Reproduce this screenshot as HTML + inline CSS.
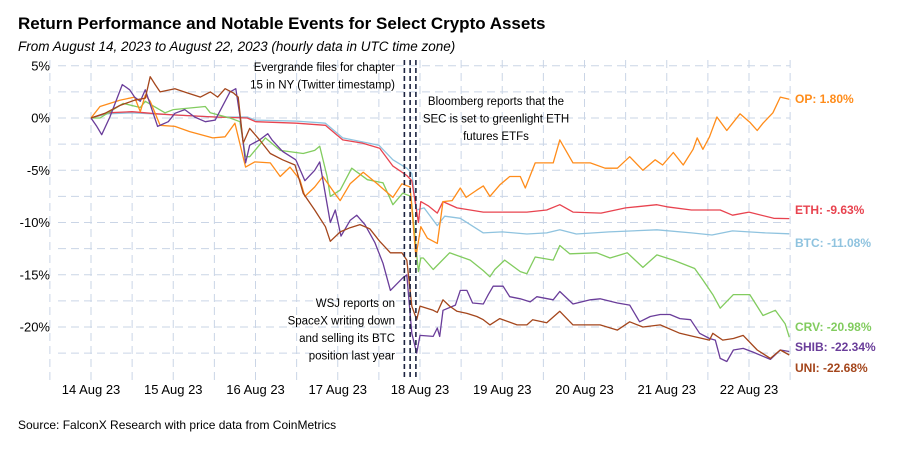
<!DOCTYPE html>
<html><head><meta charset="utf-8"><style>
body{margin:0;background:#fff;font-family:"Liberation Sans",Arial,sans-serif}
svg{display:block}
</style></head><body>
<svg id="c" width="900" height="450" xmlns="http://www.w3.org/2000/svg">
<text x="18" y="29" font-size="17" font-weight="bold" fill="#000">Return Performance and Notable Events for Select Crypto Assets</text>
<text x="18" y="51" font-size="13.5" font-style="italic" fill="#000">From August 14, 2023 to August 22, 2023 (hourly data in UTC time zone)</text>
<text x="18" y="429" font-size="12" fill="#000">Source: FalconX Research with price data from CoinMetrics</text>
<g id="grid"></g>
<g id="axes"></g>
<g id="series"></g>
<g id="ann"></g>
</svg>
<script>
const xTickLabels=["14 Aug 23","15 Aug 23","16 Aug 23","17 Aug 23","18 Aug 23","19 Aug 23","20 Aug 23","21 Aug 23","22 Aug 23"];
const yTicks=[5,0,-5,-10,-15,-20];
const eventDays=[3.81,3.88,3.95];
const seriesNames=["OP","ETH","BTC","CRV","SHIB","UNI"];
const finalValues=[1.80,-9.63,-11.08,-20.98,-22.34,-22.68];
const opDays=[0,0.11,0.35,0.53,0.6,0.66,0.72,0.84,1.02,1.2,1.48,1.63,1.75,1.88,1.99,2.18,2.3,2.42,2.54,2.6,2.72,2.82,2.99,3.03,3.15,3.31,3.48,3.67,3.78,3.88,3.95,4.01,4.09,4.21,4.28,4.39,4.49,4.56,4.69,4.77,4.85,4.97,5.09,5.22,5.28,5.4,5.62,5.7,5.86,6.07,6.25,6.4,6.55,6.71,6.86,6.95,7.08,7.2,7.32,7.37,7.44,7.52,7.61,7.73,7.89,8.01,8.1,8.17,8.29,8.38,8.49];
const opVals=[0,1.1,1.7,2.0,0.6,2.2,1.6,-0.7,-0.8,-1.3,-1.9,-1.8,-0.5,-4.7,-4.2,-4.3,-5.6,-4.7,-5.9,-7.5,-6.6,-5.6,-7.5,-7.9,-6.3,-5.2,-6.3,-7.6,-6.3,-6.6,-13.3,-10.4,-11.5,-12.0,-8.0,-7.9,-6.7,-7.6,-6.9,-6.5,-7.5,-6.4,-5.6,-5.6,-6.7,-4.3,-4.3,-2.1,-4.3,-4.3,-4.8,-4.8,-3.7,-5.0,-4.0,-4.5,-3.3,-4.5,-3.0,-1.9,-3.0,-1.8,0.1,-1.2,0.4,-0.4,-1.2,-0.5,0.5,2.0,1.8];
const ethDays=[0,0.2,0.5,0.8,1.0,1.5,1.9,2.0,2.5,2.85,3.06,3.3,3.51,3.67,3.84,3.9,3.98,4.01,4.1,4.21,4.28,4.45,4.77,5.0,5.3,5.54,5.7,5.86,6.2,6.5,6.88,7.0,7.3,7.65,7.8,8.0,8.3,8.49];
const ethVals=[0,0.5,0.6,0.4,0.3,0.1,0.0,-0.35,-0.5,-0.7,-2.1,-2.4,-2.9,-4.6,-5.5,-6.0,-10.0,-8.0,-8.4,-9.1,-8.0,-8.6,-9.0,-9.0,-9.0,-8.8,-8.3,-9.0,-9.1,-8.6,-8.3,-8.5,-8.8,-8.8,-9.3,-9.0,-9.6,-9.63];
const btcDays=[0,0.2,0.5,1.0,1.5,1.9,2.0,2.5,2.85,3.06,3.5,3.67,3.84,3.9,3.96,4.05,4.21,4.3,4.49,4.77,5.0,5.3,5.54,5.7,5.9,6.3,6.88,7.3,7.55,7.8,8.2,8.49];
const btcVals=[0,0.4,0.5,0.3,0.1,0.1,-0.2,-0.3,-0.5,-1.9,-2.6,-4.0,-4.8,-5.3,-8.8,-8.6,-10.3,-9.4,-9.6,-11.0,-10.9,-11.1,-11.0,-10.7,-11.1,-10.9,-10.7,-11.0,-11.2,-10.8,-11.0,-11.08];
const crvDays=[0,0.11,0.39,0.6,0.66,0.9,1.0,1.39,1.45,1.69,1.81,1.88,1.93,2.12,2.3,2.58,2.72,2.78,2.87,2.91,3.03,3.17,3.36,3.55,3.67,3.79,3.89,3.98,4.01,4.04,4.16,4.36,4.61,4.77,4.85,4.91,5.03,5.22,5.3,5.4,5.62,5.7,5.82,6.15,6.31,6.52,6.71,6.88,7.08,7.34,7.44,7.56,7.65,7.81,8.01,8.17,8.32,8.44,8.49];
const crvVals=[0,0,1.4,1.0,1.6,0.5,0.8,1.1,0.5,0,-0.35,-3.7,-3.7,-1.9,-3.1,-3.4,-3.1,-2.7,-5.6,-7.5,-6.9,-4.8,-5.9,-6.2,-8.3,-7.2,-7.5,-14.7,-13.4,-13.4,-14.5,-12.9,-13.6,-14.6,-15.2,-14.5,-13.6,-14.7,-14.9,-13.3,-13.6,-12.2,-13.0,-12.9,-13.4,-12.9,-14.3,-13.1,-13.6,-14.4,-15.5,-16.9,-18.2,-16.9,-16.9,-18.9,-18.4,-19.7,-20.98];
const shibDays=[0,0.07,0.13,0.23,0.38,0.47,0.53,0.6,0.66,0.72,0.81,0.94,1.02,1.14,1.26,1.39,1.51,1.69,1.76,1.81,1.85,1.88,1.93,2.05,2.15,2.2,2.33,2.49,2.6,2.72,2.78,2.91,2.97,3.04,3.15,3.23,3.33,3.45,3.55,3.64,3.79,3.84,3.9,3.96,4.0,4.16,4.21,4.24,4.28,4.43,4.49,4.57,4.64,4.77,4.83,4.89,5.01,5.09,5.22,5.34,5.42,5.62,5.7,5.86,6.07,6.19,6.4,6.55,6.67,6.8,6.92,7.04,7.16,7.29,7.4,7.52,7.59,7.65,7.73,7.81,7.93,8.05,8.17,8.26,8.38,8.49];
const shibVals=[0,-0.8,-1.6,0.1,3.2,2.7,2.0,1.6,2.7,1.3,-0.8,-0.35,0.45,0.8,0.1,-0.35,-0.2,2.5,2.8,0.2,-2.4,-4.3,-2.6,-2.1,-1.5,-2.1,-3.2,-4.0,-6.0,-5.0,-4.2,-10.0,-8.8,-11.3,-9.8,-9.3,-10.2,-11.9,-13.9,-16.5,-15.3,-15.0,-20.6,-22.5,-20.8,-20.9,-20.1,-20.9,-18.4,-17.9,-16.5,-16.5,-17.7,-17.8,-16.9,-16.1,-16.1,-17.1,-17.3,-17.6,-17.1,-17.4,-16.6,-17.8,-17.4,-17.3,-17.7,-17.9,-19.5,-19.0,-18.8,-18.8,-19.2,-19.3,-20.6,-21.1,-21.25,-23.0,-23.3,-22.2,-22.05,-22.4,-22.8,-23.1,-22.2,-22.34];
const uniDays=[0,0.17,0.35,0.53,0.66,0.72,0.78,0.84,1.02,1.17,1.33,1.45,1.54,1.63,1.73,1.79,1.85,1.93,2.05,2.18,2.33,2.48,2.58,2.72,2.85,2.91,3.03,3.15,3.27,3.39,3.51,3.64,3.78,3.84,3.9,3.96,4.0,4.16,4.21,4.28,4.36,4.45,4.57,4.69,4.77,4.85,4.97,5.18,5.3,5.37,5.54,5.7,5.86,6.07,6.19,6.4,6.55,6.71,6.92,7.16,7.32,7.52,7.56,7.68,7.81,7.93,8.1,8.26,8.38,8.49];
const uniVals=[0,0.45,1.2,1.7,1.9,3.95,3.2,2.5,2.8,2.4,2.0,2.5,2.0,2.8,2.4,2.0,-2.4,-1.0,-2.1,-3.4,-4.0,-4.5,-7.2,-8.8,-10.4,-11.8,-10.9,-10.5,-10.2,-10.6,-11.8,-12.9,-12.9,-13.6,-18.0,-19.3,-18.0,-18.4,-18.6,-17.4,-18.0,-18.5,-18.7,-19.0,-19.3,-19.8,-19.2,-19.8,-19.8,-19.3,-19.6,-18.5,-19.8,-19.8,-19.8,-20.3,-19.5,-20.0,-19.8,-20.6,-20.9,-21.25,-20.6,-21.25,-21.1,-20.8,-22.2,-23.0,-22.2,-22.68];

const NS="http://www.w3.org/2000/svg";
const X0=91,DAY=82.25,Y0=118,PCT=10.45;
function xs(d){return X0+d*DAY;}
function ys(v){return Y0-v*PCT;}
function mk(tag,attrs,parent){const e=document.createElementNS(NS,tag);for(const k in attrs)e.setAttribute(k,attrs[k]);parent.appendChild(e);return e;}
const grid=document.getElementById('grid'),axes=document.getElementById('axes'),ser=document.getElementById('series'),ann=document.getElementById('ann');
for(let v=5;v>=-22.5;v-=2.5){
  const l=mk('line',{x1:58,x2:790,y1:ys(v),y2:ys(v),stroke:'#cad5e6','stroke-width':1,'stroke-dasharray':'8,5'},grid);
  
  
}
for(let d=-0.5;d<=8.5;d+=0.5){
  const l=mk('line',{x1:xs(d),x2:xs(d),y1:60,y2:380,stroke:'#cad5e6','stroke-width':1,'stroke-dasharray':'8,5'},grid);
  
  
}
yTicks.forEach(v=>{
  const t=mk('text',{x:50,y:ys(v)+4.5,'text-anchor':'end','font-size':13,fill:'#000'},axes);
  t.textContent=v+'%';
  
  
});
xTickLabels.forEach((s,i)=>{
  const t=mk('text',{x:xs(i),y:394,'text-anchor':'middle','font-size':13,fill:'#000'},axes);
  t.textContent=s;
  
  
});
const colors=["#ff8c1a","#e8434f","#8fc3df","#82cc5f","#6a3d9a","#a4461c"];
const labelY=[103,214,247,331,351,372];
const allDays=[opDays,ethDays,btcDays,crvDays,shibDays,uniDays];
const allVals=[opVals,ethVals,btcVals,crvVals,shibVals,uniVals];
const order=[2,1,3,0,4,5];
order.forEach(i=>{
  const d=allDays[i].map((t,j)=>(j?'L':'M')+xs(t).toFixed(1)+','+ys(allVals[i][j]).toFixed(1)).join('');
  const p=mk('path',{d:d,fill:'none',stroke:colors[i],'stroke-width':1.3,'stroke-linejoin':'round'},ser);
  
  
});
seriesNames.forEach((n,i)=>{
  const t=mk('text',{x:795,y:labelY[i],'font-size':12,'font-weight':'bold',fill:colors[i]},ann);
  t.textContent=n+': '+finalValues[i].toFixed(2)+'%';
  
  
});
eventDays.forEach(d=>{
  const l=mk('line',{x1:xs(d),x2:xs(d),y1:60,y2:380,stroke:'#1c2340','stroke-width':1.6,'stroke-dasharray':'5,3'},ann);
  
  
});
function block(lines,x,y0,anchor,name){
  lines.forEach((s,k)=>{
    const t=mk('text',{x:x,y:y0+k*17.5,'text-anchor':anchor,'font-size':11.5,fill:'#000'},ann);
    t.textContent=s;
    
    
  });
}
block(["Evergrande files for chapter","15 in NY (Twitter timestamp)"],395,71,'end','evergrande-annotation');
block(["Bloomberg reports that the","SEC is set to greenlight ETH","futures ETFs"],496,105,'middle','bloomberg-annotation');
block(["WSJ reports on","SpaceX writing down","and selling its BTC","position last year"],395,307,'end','wsj-annotation');
</script>
</body></html>
